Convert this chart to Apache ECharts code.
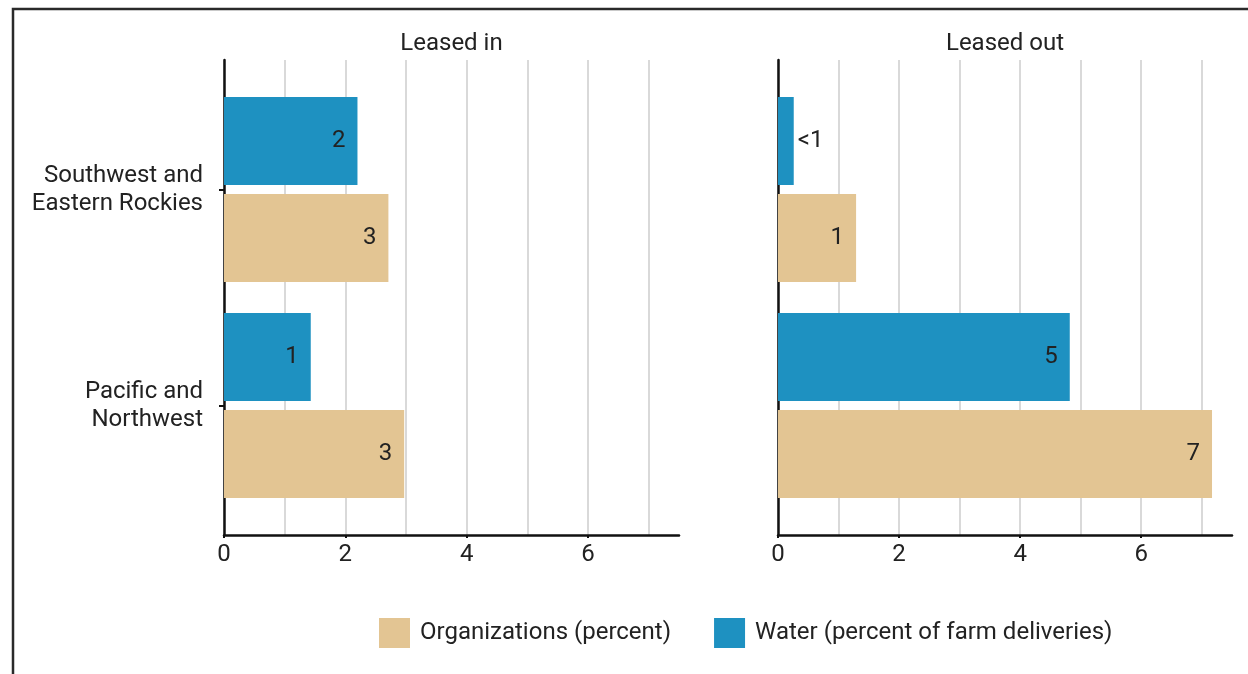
<!DOCTYPE html>
<html>
<head>
<meta charset="utf-8">
<script src="https://cdn.jsdelivr.net/npm/echarts@6/dist/echarts.min.js"></script>
<style>
  html, body { margin: 0; padding: 0; background: #ffffff; }
  #chart { width: 1248px; height: 674px; }
</style>
</head>
<body>
<div id="chart"></div>
<script>
// Regions shown on the category axis (top to bottom)
const regions = ['Southwest and\nEastern Rockies', 'Pacific and\nNorthwest'];

// Panel headings
const panelTitles = ['Leased in', 'Leased out'];

// Series names
const orgName = 'Organizations (percent)';
const waterName = 'Water (percent of farm deliveries)';

// Values, in region order
const leasedInWater = [2.2, 1.43];
const leasedInOrgs = [2.71, 2.97];
const leasedOutWater = [0.26, 4.82];
const leasedOutOrgs = [1.29, 7.17];

// Labelled ticks on the value axis
const tickValues = [0, 2, 4, 6];

const BLUE = '#1e91c1';
const TAN = '#e3c593';
const INK = '#222222';
const FONT = 'Roboto';
const FS = 24;

const AXIS_MAX = 7.5;

const chart = echarts.init(document.getElementById('chart'), null, { renderer: 'canvas' });

// Panel geometry: outer frame grid (axis lines + gridlines) and inner data grid
const panels = [
  { left: 224, width: 455 },
  { left: 778, width: 454 }
];
const frameTop = 60, frameHeight = 475;
const dataTop = 81.5, dataHeight = 432;
const frameBottom = frameTop + frameHeight;
const dataBottom = dataTop + dataHeight;

function barLabelText(p) {
  return p.value < 0.5 ? '<1' : String(Math.round(p.value));
}

function makeItems(values) {
  return values.map(v => v < 0.5
    ? { value: v, label: { position: 'right', distance: 4 } }
    : { value: v });
}

const grids = [];
const xAxes = [];
const yAxes = [];
const series = [];
const titles = [];

panels.forEach((p, i) => {
  // frame grid
  grids.push({ left: p.left, width: p.width, top: frameTop, height: frameHeight, containLabel: false });
  // data grid
  grids.push({ left: p.left, width: p.width, top: dataTop, height: dataHeight, containLabel: false });

  const fg = i * 2, dg = i * 2 + 1;

  // frame: axis lines and a gridline at every unit
  xAxes.push({
    gridIndex: fg, type: 'value', min: 0, max: AXIS_MAX, interval: 1,
    axisLine: { show: true, onZero: false, lineStyle: { color: '#111', width: 2.5 } },
    axisTick: { show: false },
    axisLabel: { show: false },
    splitLine: { show: true, showMaxLine: false, lineStyle: { color: '#cccccc', width: 1.5 } }
  });
  yAxes.push({
    gridIndex: fg, type: 'value', min: 0, max: 1,
    axisLine: { show: true, onZero: false, lineStyle: { color: '#111', width: 2.5 } },
    axisTick: { show: false }, axisLabel: { show: false }, splitLine: { show: false }
  });

  // data grid: value labels and ticks sit on the frame's baseline
  xAxes.push({
    gridIndex: dg, type: 'value', min: 0, max: AXIS_MAX, interval: 1,
    position: 'bottom', offset: frameBottom - dataBottom,
    axisLine: { show: false, onZero: false },
    axisTick: { show: true, customValues: tickValues, length: 3, lineStyle: { color: '#111', width: 2 } },
    axisLabel: { show: true, customValues: tickValues, margin: 8, fontFamily: FONT, fontSize: FS, color: INK },
    splitLine: { show: false }
  });
  yAxes.push({
    gridIndex: dg, type: 'category', data: regions, inverse: true,
    axisLine: { show: false },
    axisTick: { show: i === 0, alignWithLabel: true, length: 5, lineStyle: { color: '#111', width: 2 } },
    axisLabel: {
      show: i === 0, margin: 21, fontFamily: FONT, fontSize: FS, lineHeight: 28,
      color: INK, align: 'right'
    },
    splitLine: { show: false }
  });

  const water = i === 0 ? leasedInWater : leasedOutWater;
  const orgs = i === 0 ? leasedInOrgs : leasedOutOrgs;
  const labelCfg = {
    show: true, position: 'insideRight', distance: 12,
    fontFamily: FONT, fontSize: FS, color: INK, formatter: barLabelText
  };
  series.push({
    name: waterName, type: 'bar', xAxisIndex: dg, yAxisIndex: dg,
    data: makeItems(water), barWidth: 88, barGap: '10%',
    itemStyle: { color: BLUE }, label: labelCfg, silent: true
  });
  series.push({
    name: orgName, type: 'bar', xAxisIndex: dg, yAxisIndex: dg,
    data: makeItems(orgs), barWidth: 88, barGap: '10%',
    itemStyle: { color: TAN }, label: labelCfg, silent: true
  });

  titles.push({
    text: panelTitles[i], left: p.left + p.width / 2, top: 32, textAlign: 'center', padding: 0,
    textStyle: { fontFamily: FONT, fontSize: FS, fontWeight: 'normal', color: INK }
  });
});

chart.setOption({
  animation: false,
  backgroundColor: '#ffffff',
  title: titles,
  grid: grids,
  xAxis: xAxes,
  yAxis: yAxes,
  series: series,
  legend: {
    data: [orgName, waterName],
    left: 379, top: 618, padding: 0,
    icon: 'rect', itemWidth: 31, itemHeight: 30, itemGap: 43,
    textStyle: { fontFamily: FONT, fontSize: FS, color: INK, padding: [0, 0, 0, 5] },
    selectedMode: false
  },
  graphic: [{
    type: 'rect', silent: true, z: 100,
    shape: { x: 13, y: 9, width: 1400, height: 900 },
    style: { fill: 'none', stroke: '#2a2a2a', lineWidth: 2.5 }
  }]
});
</script>
</body>
</html>
